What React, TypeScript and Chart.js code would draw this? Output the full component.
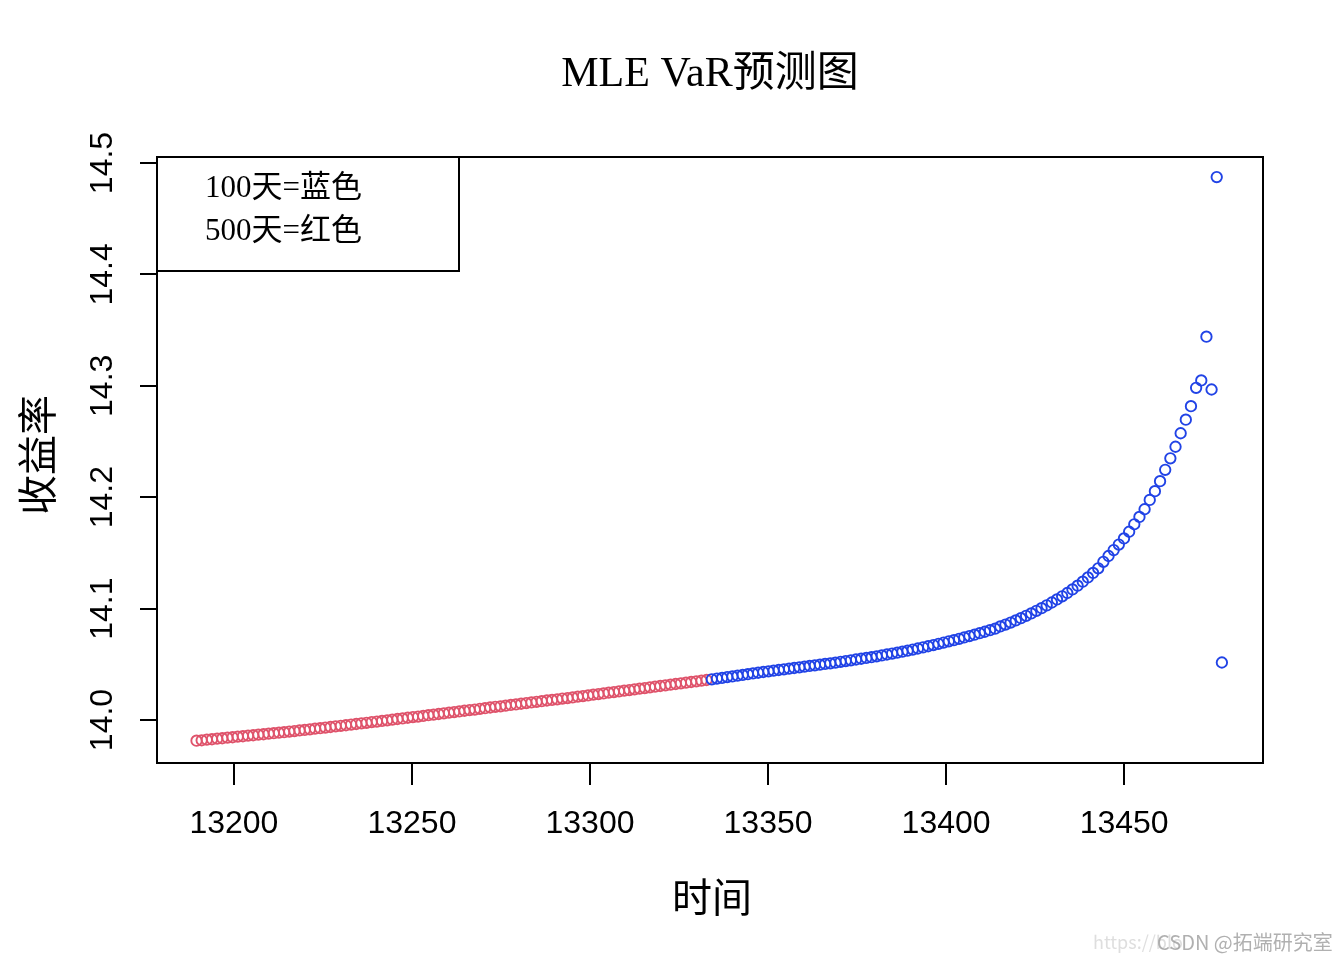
import { useEffect, useRef } from "react";
import { Chart, registerables } from "chart.js";
import type { Plugin } from "chart.js";

Chart.register(...registerables);

// time axis: first day and spacing between forecast days
const dayStart = 13189.5;
const dayStep = 1.447;

// 500-day window forecasts (red)
const var500 = [
  13.9814, 13.9818, 13.9823, 13.9827, 13.9832, 13.9836, 13.9841, 13.9845, 13.985, 13.9854,
  13.9859, 13.9863, 13.9868, 13.9872, 13.9877, 13.9882, 13.9886, 13.9891, 13.9896, 13.9901,
  13.9906, 13.9911, 13.9916, 13.9922, 13.9927, 13.9932, 13.9937, 13.9943, 13.9948, 13.9953,
  13.9959, 13.9964, 13.997, 13.9975, 13.9981, 13.9986, 13.9992, 13.9997, 14.0003, 14.0009,
  14.0014, 14.002, 14.0026, 14.0031, 14.0037, 14.0043, 14.0048, 14.0054, 14.006, 14.0066,
  14.0071, 14.0077, 14.0083, 14.0089, 14.0094, 14.01, 14.0106, 14.0112, 14.0118, 14.0123,
  14.0129, 14.0135, 14.014, 14.0146, 14.0152, 14.0158, 14.0163, 14.0169, 14.0175, 14.018,
  14.0186, 14.0192, 14.0197, 14.0203, 14.0209, 14.0215, 14.0221, 14.0227, 14.0233, 14.0239,
  14.0245, 14.0251, 14.0257, 14.0263, 14.0269, 14.0275, 14.0281, 14.0287, 14.0293, 14.0299,
  14.0305, 14.0311, 14.0317, 14.0323, 14.0329, 14.0335, 14.0341, 14.0347, 14.0353, 14.0359,
];

// 100-day window forecasts (blue)
const var100 = [
  14.0365, 14.0372, 14.0378, 14.0385, 14.0391, 14.0398, 14.0405, 14.0411, 14.0418, 14.0424,
  14.0431, 14.0437, 14.0443, 14.0449, 14.0455, 14.0461, 14.0467, 14.0473, 14.0479, 14.0485,
  14.0491, 14.0497, 14.0503, 14.0509, 14.0515, 14.0522, 14.0529, 14.0536, 14.0543, 14.055,
  14.0557, 14.0564, 14.0572, 14.058, 14.0588, 14.0596, 14.0604, 14.0613, 14.0622, 14.0632,
  14.0642, 14.0652, 14.0662, 14.0673, 14.0684, 14.0695, 14.0706, 14.0717, 14.0729, 14.0741,
  14.0753, 14.0766, 14.0779, 14.0792, 14.0806, 14.082, 14.084, 14.0857, 14.0875, 14.0894,
  14.0914, 14.0935, 14.0957, 14.098, 14.1004, 14.1029, 14.1055, 14.1082, 14.111, 14.114,
  14.1172, 14.1206, 14.1242, 14.128, 14.132, 14.1362, 14.142, 14.1472, 14.1525, 14.1575,
  14.163, 14.169, 14.1757, 14.1823, 14.1892, 14.1976, 14.2054, 14.2144, 14.2246, 14.2349,
  14.2453, 14.2574, 14.2696, 14.2817, 14.2982, 14.3048, 14.3441, 14.2967, 14.4874, 14.0516,
];

const xTicks = [13200, 13250, 13300, 13350, 13400, 13450];
const yTicks = [14.0, 14.1, 14.2, 14.3, 14.4, 14.5];
const yTickLabels = ["14.0", "14.1", "14.2", "14.3", "14.4", "14.5"];
const legendLines = ["100天=蓝色", "500天=红色"];

const serif = '"Liberation Serif", "Noto Sans CJK SC", serif';
const sans = '"Liberation Sans", Arial, sans-serif';
const cjk = '"Noto Sans CJK SC", "Liberation Serif", serif';

const rFrame: Plugin<"scatter"> = {
  id: "rFrame",
  afterDraw(chart) {
    const { ctx, chartArea, scales } = chart;
    const xs = scales.x;
    const ys = scales.y;
    ctx.save();
    ctx.strokeStyle = "#000";
    ctx.lineWidth = 2;
    ctx.strokeRect(chartArea.left, chartArea.top, chartArea.right - chartArea.left, chartArea.bottom - chartArea.top);

    // legend box at top-left
    ctx.strokeRect(chartArea.left, chartArea.top, 302, 114);
    ctx.fillStyle = "#000";
    ctx.font = `31px ${serif}`;
    ctx.textAlign = "left";
    ctx.textBaseline = "middle";
    legendLines.forEach((t, i) => {
      ctx.fillText(t, chartArea.left + 48, chartArea.top + 32 + i * 43);
    });

    // title
    ctx.textAlign = "center";
    ctx.font = `42px ${serif}`;
    ctx.fillText("MLE VaR预测图", (chartArea.left + chartArea.right) / 2, 75);

    // x tick labels
    ctx.font = `32px ${sans}`;
    xTicks.forEach((v) => {
      ctx.fillText(String(v), xs.getPixelForValue(v), chartArea.bottom + 61);
    });

    // y tick labels, rotated like R
    yTicks.forEach((v, i) => {
      ctx.save();
      ctx.translate(chartArea.left - 54, ys.getPixelForValue(v));
      ctx.rotate(-Math.PI / 2);
      ctx.fillText(yTickLabels[i], 0, 0);
      ctx.restore();
    });

    // axis titles
    ctx.font = `40px ${cjk}`;
    ctx.fillText("时间", (chartArea.left + chartArea.right) / 2 + 2, 897);
    ctx.save();
    ctx.translate(37, (chartArea.top + chartArea.bottom) / 2 - 5);
    ctx.rotate(-Math.PI / 2);
    ctx.fillText("收益率", 0, 0);
    ctx.restore();

    // watermark
    ctx.textAlign = "left";
    ctx.font = `18px ${cjk}`;
    ctx.fillStyle = "rgba(200,200,200,0.6)";
    ctx.fillText("https://blo", 1093, 942);
    ctx.fillStyle = "rgba(150,150,150,0.75)";
    ctx.font = `20px ${cjk}`;
    ctx.fillText("CSDN @拓端研究室", 1157, 942);
    ctx.restore();
  },
};

export default function App() {
  const canvasRef = useRef<HTMLCanvasElement | null>(null);

  useEffect(() => {
    if (!canvasRef.current) {
      return;
    }

    const days500 = var500.map((_, i) => dayStart + i * dayStep);
    const days100 = var100.map((_, i) => dayStart + (var500.length + i) * dayStep);

    const chart = new Chart(canvasRef.current, {
      type: "scatter",
      data: {
        datasets: [
          {
            label: "100天",
            data: var100.map((y, i) => ({ x: days100[i], y })),
            borderColor: "#2143e6",
            backgroundColor: "rgba(0,0,0,0)",
            pointRadius: 5.2,
            pointBorderWidth: 1.9,
          },
          {
            label: "500天",
            data: var500.map((y, i) => ({ x: days500[i], y })),
            borderColor: "#df536b",
            backgroundColor: "rgba(0,0,0,0)",
            pointRadius: 5.2,
            pointBorderWidth: 1.9,
          },
        ],
      },
      options: {
        animation: false,
        responsive: false,
        devicePixelRatio: 1,
        layout: { padding: { left: 140, top: 157, right: 81, bottom: 175 } },
        plugins: {
          legend: { display: false },
          title: { display: false },
          tooltip: { enabled: false },
        },
        scales: {
          x: {
            type: "linear",
            min: 13178.4,
            max: 13489.0,
            afterBuildTicks: (scale) => {
              scale.ticks = xTicks.map((v) => ({ value: v }));
            },
            ticks: { display: false },
            border: { display: false },
            grid: { drawOnChartArea: false, drawTicks: true, tickLength: 22, color: "#000", lineWidth: 2 },
          },
          y: {
            type: "linear",
            min: 13.9614,
            max: 14.5054,
            afterBuildTicks: (scale) => {
              scale.ticks = yTicks.map((v) => ({ value: v }));
            },
            ticks: { display: false },
            border: { display: false },
            grid: { drawOnChartArea: false, drawTicks: true, tickLength: 17, color: "#000", lineWidth: 2 },
          },
        },
      },
      plugins: [rFrame],
    });

    return () => {
      chart.destroy();
    };
  }, []);

  return (
    <div style={{ position: "absolute", left: 0, top: 0, width: 1344, height: 960, background: "#fff" }}>
      <canvas ref={canvasRef} width={1344} height={960}></canvas>
    </div>
  );
}
